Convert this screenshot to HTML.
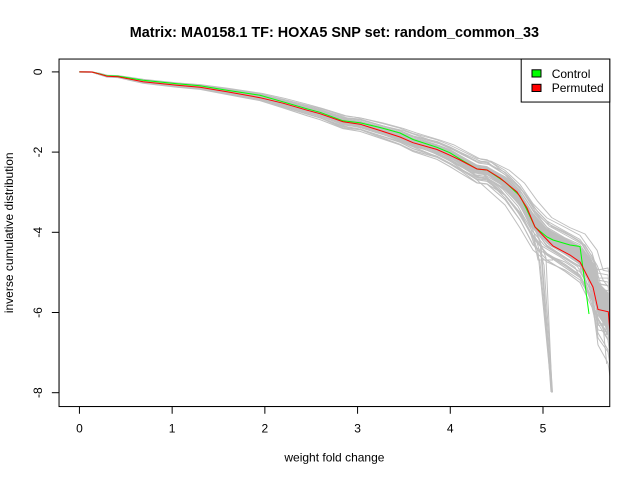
<!DOCTYPE html>
<html>
<head>
<meta charset="utf-8">
<style>
html,body{margin:0;padding:0;background:#fff;}
svg{display:block;}
text{font-family:"Liberation Sans",Arial,sans-serif;fill:#000;}
</style>
</head>
<body>
<svg width="640" height="480" viewBox="0 0 640 480" xmlns="http://www.w3.org/2000/svg">
<defs>
<clipPath id="pc"><rect x="59.04" y="59.04" width="550.72" height="347.52"/></clipPath>
</defs>
<rect x="0" y="0" width="640" height="480" fill="#fff"/>

<g clip-path="url(#pc)">
  <!-- dense core band -->
  <polygon fill="#bebebe" points="79.4,71.1 92,71.2 100,73.2 107,75.1 118,75.5 143,79.9 177,83.1 200,85 227,89.3 260,94.6 283,100.4 307,107.3 320,110.7 343,118.7 360,120.9 380,126.4 400,132.2 413,137.8 437,144.8 450,150.4 460,155.5 477,164.6 487,166.1 505,176.9 520,192.1 533,212.8 547,228.4 565,238.1 580,245.9 592,263 598,282 608,292 612,300 612,345 608,332 598,314 592,287 580,265.1 565,254.9 547,243.6 533,227.2 520,204.9 505,188.1 487,174.9 477,173.4 460,163.9 450,158 437,151.6 413,144.2 400,138.2 380,132 360,126.1 343,123.7 320,115.3 307,111.7 283,104.6 260,98.4 227,92.7 200,88 177,85.9 143,82.1 118,77.1 107,76.7 100,74.8 92,72.8 79.4,72.7"/>

  <g fill="none" stroke="#bebebe" stroke-width="1">
    <!-- base A -->
    <polyline transform="matrix(1 0 0 0.89 0 7.909)" points="79.4,71.9 92,72 100,74 107,75.9 118,76.3 143,81 177,84.5 200,86.5 227,91 260,96.5 283,102.5 307,109.5 320,113 343,121.2 360,123.5 380,129.2 400,135.2 413,141 437,148.2 450,154.2 460,159.7 477,169 487,170.5 505,182.5 520,198.5 533,220 547,236 565,246.5 580,255.5 592,275 598,298 608,300 612,330"/>
    <polyline transform="matrix(1.005 0 0 0.94 -0.397 4.314)" points="79.4,71.9 92,72 100,74 107,75.9 118,76.3 143,81 177,84.5 200,86.5 227,91 260,96.5 283,102.5 307,109.5 320,113 343,121.2 360,123.5 380,129.2 400,135.2 413,141 437,148.2 450,154.2 460,159.7 477,169 487,170.5 505,182.5 520,198.5 533,220 547,236 565,246.5 580,255.5 592,275 598,298 608,300 612,330"/>
    <polyline transform="matrix(0.995 0 0 1.06 0.397 -4.314)" points="79.4,71.9 92,72 100,74 107,75.9 118,76.3 143,81 177,84.5 200,86.5 227,91 260,96.5 283,102.5 307,109.5 320,113 343,121.2 360,123.5 380,129.2 400,135.2 413,141 437,148.2 450,154.2 460,159.7 477,169 487,170.5 505,182.5 520,198.5 533,220 547,236 565,246.5 580,255.5 592,275 598,298 608,300 612,330"/>
    <polyline transform="matrix(1 0 0 1.11 0 -7.909)" points="79.4,71.9 92,72 100,74 107,75.9 118,76.3 143,81 177,84.5 200,86.5 227,91 260,96.5 283,102.5 307,109.5 320,113 343,121.2 360,123.5 380,129.2 400,135.2 413,141 437,148.2 450,154.2 460,159.7 477,169 487,170.5 505,182.5 520,198.5 533,220 547,236 565,246.5 580,255.5 592,275 598,298 608,300 612,330"/>
    <polyline points="79.4,71.9 92,72 100,74 107,75.9 118,76.3 143,81 177,84.5 200,86.5 227,91 260,96.5 283,102.5 307,109.5 320,113 343,121.2 360,123.5 380,129.2 400,135.2 413,141 437,148.2 450,154.2 460,159.7 477,169 487,170.5 505,182.5 520,198.5 533,220 547,236 565,246.5 580,255.5 592,275 598,298 608,300 612,330"/>
    <!-- base B -->
    <polyline transform="matrix(1.01 0 0 0.91 -0.794 6.471)" points="79.4,71.9 92,72 100,73.5 107,75.5 118,76 143,80 177,84 200,86 227,90 260,95.5 283,101 307,108 320,112 343,120 360,123 380,128 400,134 413,139 437,147 450,152 460,158 477,168 487,170 505,180 520,194 533,214 547,232 565,243 580,250 592,268 598,290 608,292 612,325"/>
    <polyline transform="matrix(1 0 0 0.97 0 2.157)" points="79.4,71.9 92,72 100,73.5 107,75.5 118,76 143,80 177,84 200,86 227,90 260,95.5 283,101 307,108 320,112 343,120 360,123 380,128 400,134 413,139 437,147 450,152 460,158 477,168 487,170 505,180 520,194 533,214 547,232 565,243 580,250 592,268 598,290 608,292 612,325"/>
    <polyline transform="matrix(0.99 0 0 1.04 0.794 -2.876)" points="79.4,71.9 92,72 100,73.5 107,75.5 118,76 143,80 177,84 200,86 227,90 260,95.5 283,101 307,108 320,112 343,120 360,123 380,128 400,134 413,139 437,147 450,152 460,158 477,168 487,170 505,180 520,194 533,214 547,232 565,243 580,250 592,268 598,290 608,292 612,325"/>
    <polyline transform="matrix(1 0 0 1.09 0 -6.471)" points="79.4,71.9 92,72 100,73.5 107,75.5 118,76 143,80 177,84 200,86 227,90 260,95.5 283,101 307,108 320,112 343,120 360,123 380,128 400,134 413,139 437,147 450,152 460,158 477,168 487,170 505,180 520,194 533,214 547,232 565,243 580,250 592,268 598,290 608,292 612,325"/>
    <!-- base C -->
    <polyline transform="matrix(1 0 0 0.90 0 7.19)" points="79.4,71.9 92,72.2 100,74.5 107,76.5 118,77 143,82 177,85.5 200,87.5 227,92 260,97.5 283,104 307,111 320,114.5 343,122.5 360,125 380,131 400,137 413,143 437,150 450,156.5 460,162 477,171 487,172 505,186 520,204 533,226 547,240 565,250 580,260 592,282 598,305 608,320 612,345"/>
    <polyline transform="matrix(0.995 0 0 0.95 0.397 3.595)" points="79.4,71.9 92,72.2 100,74.5 107,76.5 118,77 143,82 177,85.5 200,87.5 227,92 260,97.5 283,104 307,111 320,114.5 343,122.5 360,125 380,131 400,137 413,143 437,150 450,156.5 460,162 477,171 487,172 505,186 520,204 533,226 547,240 565,250 580,260 592,282 598,305 608,320 612,345"/>
    <polyline transform="matrix(1.005 0 0 1.03 -0.397 -2.157)" points="79.4,71.9 92,72.2 100,74.5 107,76.5 118,77 143,82 177,85.5 200,87.5 227,92 260,97.5 283,104 307,111 320,114.5 343,122.5 360,125 380,131 400,137 413,143 437,150 450,156.5 460,162 477,171 487,172 505,186 520,204 533,226 547,240 565,250 580,260 592,282 598,305 608,320 612,345"/>
    <polyline transform="matrix(1 0 0 1.08 0 -5.752)" points="79.4,71.9 92,72.2 100,74.5 107,76.5 118,77 143,82 177,85.5 200,87.5 227,92 260,97.5 283,104 307,111 320,114.5 343,122.5 360,125 380,131 400,137 413,143 437,150 450,156.5 460,162 477,171 487,172 505,186 520,204 533,226 547,240 565,250 580,260 592,282 598,305 608,320 612,345"/>
    <polyline transform="matrix(1 0 0 1.12 0 -8.628)" points="79.4,71.9 92,72.2 100,74.5 107,76.5 118,77 143,82 177,85.5 200,87.5 227,92 260,97.5 283,104 307,111 320,114.5 343,122.5 360,125 380,131 400,137 413,143 437,150 450,156.5 460,162 477,171 487,172 505,186 520,204 533,226 547,240 565,250 580,260 592,282 598,305 608,320 612,345"/>
    <!-- base D -->
    <polyline transform="matrix(1.01 0 0 0.93 -0.794 5.033)" points="79.4,71.9 92,72 100,74 107,76 118,76.5 143,81.5 177,84 200,86 227,91.5 260,97 283,102 307,110 320,113.5 343,121 360,124 380,130 400,135 413,140 437,149 450,155 460,160 477,168 487,169 505,184 520,202 533,222 547,238 565,248 580,258 592,280 598,296 608,310 612,350"/>
    <polyline transform="matrix(1 0 0 0.985 0 1.0785)" points="79.4,71.9 92,72 100,74 107,76 118,76.5 143,81.5 177,84 200,86 227,91.5 260,97 283,102 307,110 320,113.5 343,121 360,124 380,130 400,135 413,140 437,149 450,155 460,160 477,168 487,169 505,184 520,202 533,222 547,238 565,248 580,258 592,280 598,296 608,310 612,350"/>
    <polyline transform="matrix(0.99 0 0 1.05 0.794 -3.595)" points="79.4,71.9 92,72 100,74 107,76 118,76.5 143,81.5 177,84 200,86 227,91.5 260,97 283,102 307,110 320,113.5 343,121 360,124 380,130 400,135 413,140 437,149 450,155 460,160 477,168 487,169 505,184 520,202 533,222 547,238 565,248 580,258 592,280 598,296 608,310 612,350"/>
    <polyline transform="matrix(1 0 0 1.10 0 -7.19)" points="79.4,71.9 92,72 100,74 107,76 118,76.5 143,81.5 177,84 200,86 227,91.5 260,97 283,102 307,110 320,113.5 343,121 360,124 380,130 400,135 413,140 437,149 450,155 460,160 477,168 487,169 505,184 520,202 533,222 547,238 565,248 580,258 592,280 598,296 608,310 612,350"/>
    <!-- base E -->
    <polyline transform="matrix(1 0 0 0.92 0 5.752)" points="79.4,71.9 92,72 100,73.8 107,75.7 118,76.2 143,80.5 177,84.8 200,87 227,90.5 260,96 283,103 307,109 320,112.5 343,121.5 360,123 380,129.5 400,136 413,141.5 437,147.5 450,153.5 460,159 477,170 487,171 505,181 520,197 533,218 547,234 565,245 580,254 592,272 598,296 608,296 612,318"/>
    <polyline transform="matrix(1.005 0 0 0.975 -0.397 1.7975)" points="79.4,71.9 92,72 100,73.8 107,75.7 118,76.2 143,80.5 177,84.8 200,87 227,90.5 260,96 283,103 307,109 320,112.5 343,121.5 360,123 380,129.5 400,136 413,141.5 437,147.5 450,153.5 460,159 477,170 487,171 505,181 520,197 533,218 547,234 565,245 580,254 592,272 598,296 608,296 612,318"/>
    <polyline transform="matrix(0.995 0 0 1.025 0.397 -1.7975)" points="79.4,71.9 92,72 100,73.8 107,75.7 118,76.2 143,80.5 177,84.8 200,87 227,90.5 260,96 283,103 307,109 320,112.5 343,121.5 360,123 380,129.5 400,136 413,141.5 437,147.5 450,153.5 460,159 477,170 487,171 505,181 520,197 533,218 547,234 565,245 580,254 592,272 598,296 608,296 612,318"/>
    <polyline transform="matrix(1 0 0 1.07 0 -5.033)" points="79.4,71.9 92,72 100,73.8 107,75.7 118,76.2 143,80.5 177,84.8 200,87 227,90.5 260,96 283,103 307,109 320,112.5 343,121.5 360,123 380,129.5 400,136 413,141.5 437,147.5 450,153.5 460,159 477,170 487,171 505,181 520,197 533,218 547,234 565,245 580,254 592,272 598,296 608,296 612,318"/>
    <polyline transform="matrix(1 0 0 1.13 0 -9.347)" points="79.4,71.9 92,72 100,73.8 107,75.7 118,76.2 143,80.5 177,84.8 200,87 227,90.5 260,96 283,103 307,109 320,112.5 343,121.5 360,123 380,129.5 400,136 413,141.5 437,147.5 450,153.5 460,159 477,170 487,171 505,181 520,197 533,218 547,234 565,245 580,254 592,272 598,296 608,296 612,318"/>

    <!-- steep drop bundle near x=5.1 -->
    <polyline points="520,200 533,224 541,245 552,392"/>
    <polyline points="520,204 530,226 538,252 551.5,391"/>
    <polyline points="505,186 520,206 533,230 544,265 552.5,392"/>
    <polyline points="520,196 535,228 546,258 552,390"/>
    <polyline points="505,184 527,214 540,240 551,392"/>
    <polyline points="520,210 531,235 540,262 552,393"/>
    <polyline points="533,236 538,260 553,260"/>

    <!-- mid-range outliers -->
    <polyline points="413,143 437,152 460,168 477,180 505,205 520,228 533,250 547,262 565,270 580,280 592,300 598,320 608,335 612,360"/>
    <polyline points="450,157 477,176 487,180 505,198 520,220 533,245 547,255 565,262 580,272 592,292 598,312 608,314 612,340"/>

    <!-- right-end spread -->
    <polyline points="580,262 592,290 598,330 608,332 612,370"/>
    <polyline points="580,268 592,300 598,345 608,363 612,390"/>
    <polyline points="580,258 592,285 598,318 608,340 612,372"/>
    <polyline points="580,250 592,270 598,280 608,282 612,300"/>
    <polyline points="580,248 592,262 598,270 608,268 612,290"/>
    <polyline points="580,264 592,296 598,338 608,352 612,380"/>
    <polyline points="580,256 592,280 598,310 608,325 612,360"/>
    <polyline points="580,252 592,276 598,302 608,303 612,330"/>
  </g>

  <polyline fill="none" stroke="#00ff00" stroke-width="1" points="79.4,71.9 92,72 100,74 107,75.8 118,76.1 143,80.3 177,83.8 200,85.8 227,90.3 260,95.3 283,101.8 307,108.8 320,112.3 343,120.8 360,122.8 380,127.5 400,133 413,139.5 437,147.3 450,152.8 460,159 477,169 487,170 505,182 520,196 527,210 535,227 547,237 553,240 570,245 580,246.5 589,314"/>
  <polyline fill="none" stroke="#ff0000" stroke-width="1" points="79.4,71.9 92,72 100,74.2 107,76.2 118,76.7 143,81.7 177,85.2 200,87.2 227,91.7 260,97.7 283,103.2 307,110.2 320,113.7 343,121.7 360,124.2 380,130.5 400,137 413,142.7 437,149.5 450,155.3 460,160 477,169 487,170 500,178 517,192 527,208 535,227 543,235.5 553,246 570,255 580,262 593,287 598,309.5 608.3,311.8 611,345"/>
</g>

<!-- plot box -->
<rect x="59.04" y="59.04" width="550.72" height="347.52" fill="none" stroke="#000" stroke-width="1"/>

<!-- x axis -->
<g stroke="#000" stroke-width="1" fill="none">
  <line x1="79.44" y1="406.56" x2="543.0" y2="406.56"/>
  <line x1="79.44" y1="406.56" x2="79.44" y2="413.76"/>
  <line x1="172.15" y1="406.56" x2="172.15" y2="413.76"/>
  <line x1="264.86" y1="406.56" x2="264.86" y2="413.76"/>
  <line x1="357.57" y1="406.56" x2="357.57" y2="413.76"/>
  <line x1="450.28" y1="406.56" x2="450.28" y2="413.76"/>
  <line x1="543.0" y1="406.56" x2="543.0" y2="413.76"/>
</g>
<g font-size="12" text-anchor="middle">
  <text x="79.44" y="432.5">0</text>
  <text x="172.15" y="432.5">1</text>
  <text x="264.86" y="432.5">2</text>
  <text x="357.57" y="432.5">3</text>
  <text x="450.28" y="432.5">4</text>
  <text x="543.0" y="432.5">5</text>
</g>

<!-- y axis -->
<g stroke="#000" stroke-width="1" fill="none">
  <line x1="59.04" y1="71.9" x2="59.04" y2="392.7"/>
  <line x1="59.04" y1="71.9" x2="51.84" y2="71.9"/>
  <line x1="59.04" y1="152.1" x2="51.84" y2="152.1"/>
  <line x1="59.04" y1="232.3" x2="51.84" y2="232.3"/>
  <line x1="59.04" y1="312.5" x2="51.84" y2="312.5"/>
  <line x1="59.04" y1="392.7" x2="51.84" y2="392.7"/>
</g>
<g font-size="12" text-anchor="middle">
  <text transform="translate(41.8,71.9) rotate(-90)">0</text>
  <text transform="translate(41.8,152.1) rotate(-90)">-2</text>
  <text transform="translate(41.8,232.3) rotate(-90)">-4</text>
  <text transform="translate(41.8,312.5) rotate(-90)">-6</text>
  <text transform="translate(41.8,392.7) rotate(-90)">-8</text>
</g>

<!-- labels -->
<text x="334.4" y="461.3" font-size="12" text-anchor="middle">weight fold change</text>
<text transform="translate(13,232.8) rotate(-90)" font-size="12" text-anchor="middle">inverse cumulative distribution</text>
<text x="334.4" y="37" font-size="14.4" font-weight="bold" text-anchor="middle">Matrix: MA0158.1 TF: HOXA5 SNP set: random_common_33</text>

<!-- legend -->
<rect x="521.2" y="59.04" width="88.56" height="43" fill="#fff" stroke="#000" stroke-width="1"/>
<rect x="532" y="69.8" width="9" height="7.2" fill="#00ff00" stroke="#000" stroke-width="1"/>
<rect x="532" y="84.3" width="9" height="7.2" fill="#ff0000" stroke="#000" stroke-width="1"/>
<text x="551.7" y="78" font-size="12">Control</text>
<text x="551.7" y="92.2" font-size="12">Permuted</text>
</svg>
</body>
</html>
